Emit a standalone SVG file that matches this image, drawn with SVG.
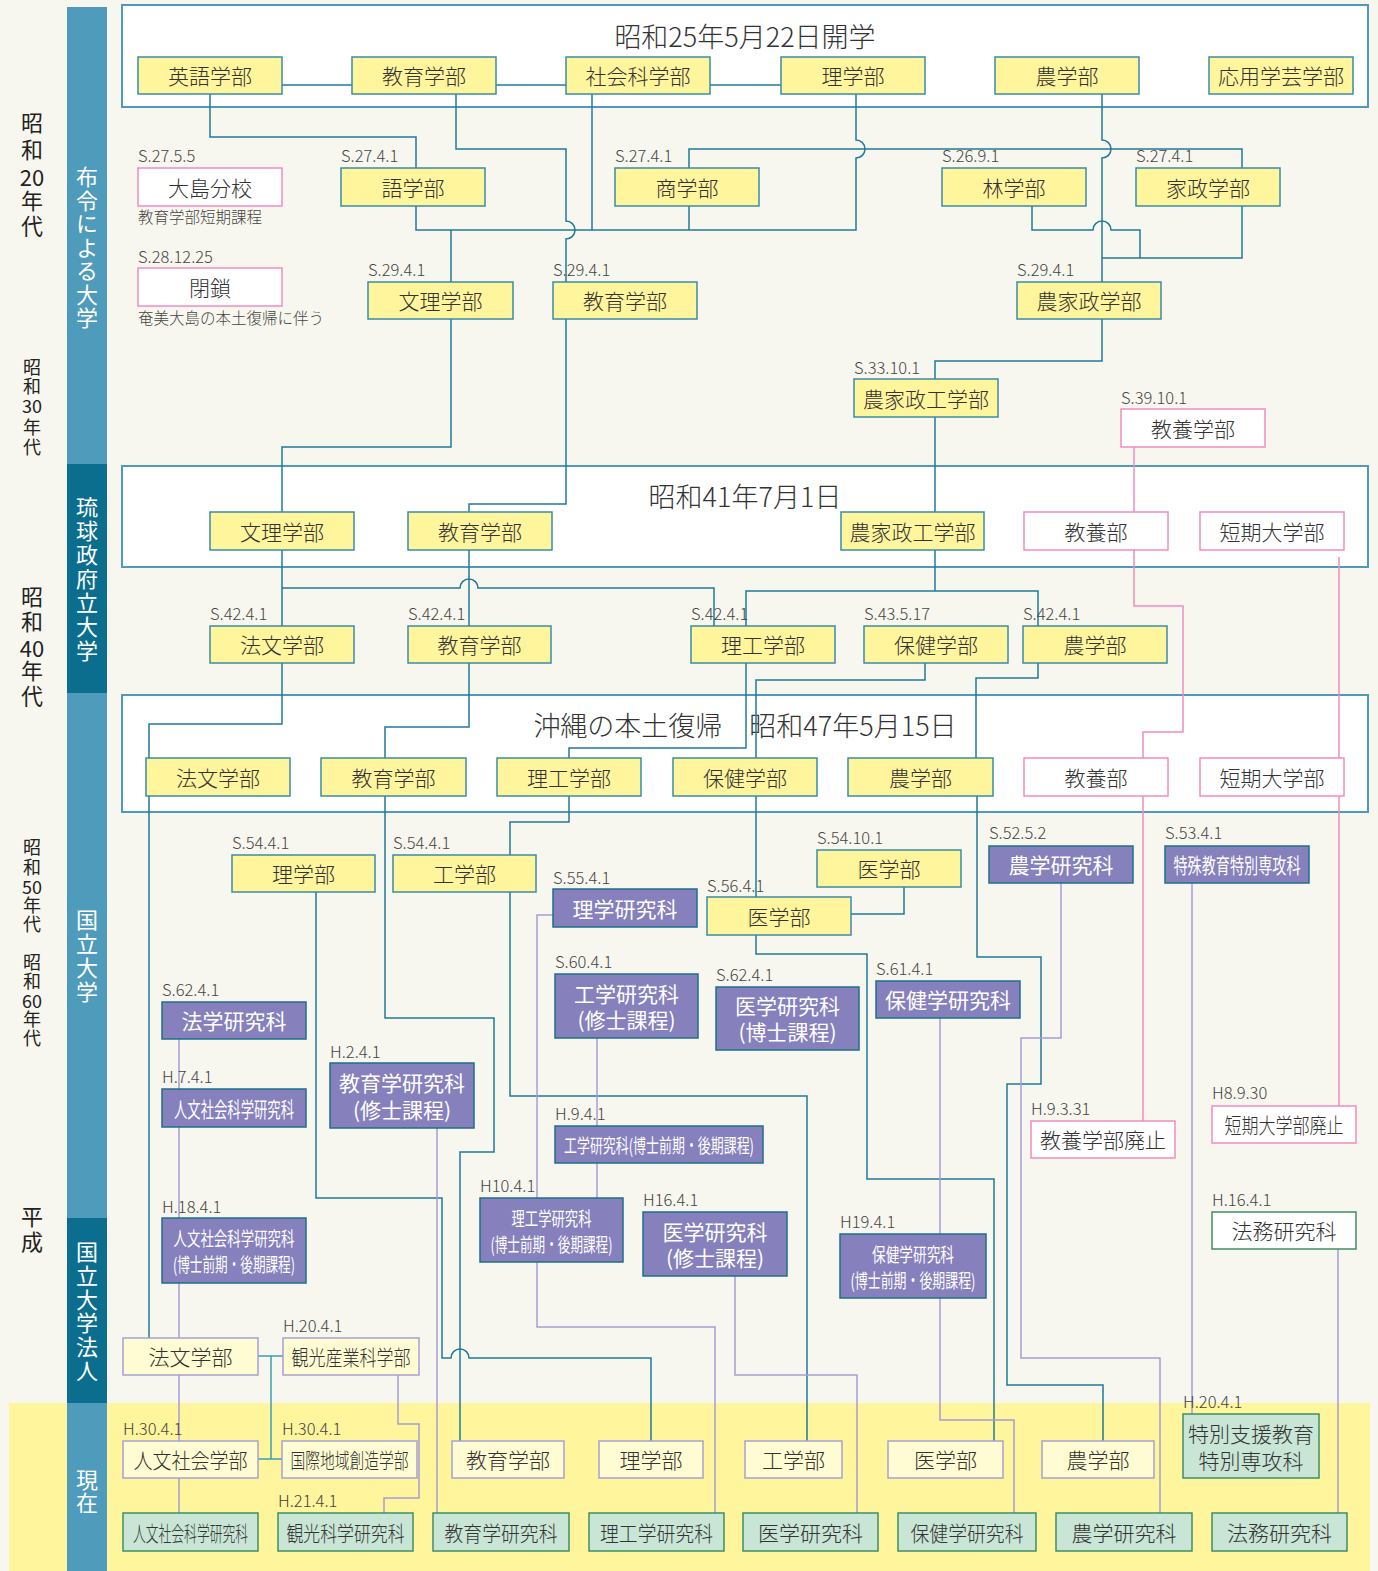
<svg xmlns="http://www.w3.org/2000/svg" width="1378" height="1571" viewBox="0 0 1378 1571">
<style>
.bg{fill:#f8f7ef}
.ob{fill:#fff;stroke:#4f9aba;stroke-width:2}
.y{fill:#fff59d;stroke:#3a8ca8;stroke-width:1.5}
.p{fill:#fff;stroke:#f28cc0;stroke-width:1.5}
.v{fill:#8680bd;stroke:#1e6f8c;stroke-width:1.5}
.c{fill:#fffbd2;stroke:#a7a1d2;stroke-width:1.5}
.g{fill:#c8e5d5;stroke:#3e8e64;stroke-width:1.5}
.gw{fill:#fff;stroke:#3e8e64;stroke-width:1.5}
text{font-family:"Noto Sans CJK JP","Noto Sans",sans-serif;font-weight:300}
.t{font-size:21px;fill:#333;text-anchor:middle;dominant-baseline:central}
.tw{fill:#fff;font-weight:400}
.s{font-size:19px}
.d{font-size:16.5px;fill:#444}
.ti{font-size:27px;fill:#333;text-anchor:middle;dominant-baseline:central}
.era{font-size:22px;fill:#222;text-anchor:middle;dominant-baseline:central;font-weight:400}
.ev{font-size:22px;fill:#222;text-anchor:middle;writing-mode:vertical-rl;font-weight:400}
.e2{font-size:18px}
.bt{font-size:22px;fill:#fff;text-anchor:middle;writing-mode:vertical-rl;font-weight:400}
.ln{fill:none;stroke:#1f7b99;stroke-width:1.5}
.lp{fill:none;stroke:#f28cc0;stroke-width:1.5}
.lv{fill:none;stroke:#a59fd1;stroke-width:1.5}
.lt{fill:none;stroke:#3aa0b4;stroke-width:1.5}
</style>
<rect class="bg" x="0" y="0" width="1378" height="1571"/>
<rect x="9" y="1403" width="1361" height="168" fill="#fff59d"/>
<g id="band">
<rect x="67" y="7" width="40" height="1564" fill="#4f9bbb"/>
<rect x="67" y="464" width="40" height="229" fill="#0b6e8e"/>
<rect x="67" y="1218" width="40" height="185" fill="#0b6e8e"/>
<text class="bt" x="87" y="248" letter-spacing="1.5">布令による大学</text>
<text class="bt" x="87" y="580" letter-spacing="2">琉球政府立大学</text>
<text class="bt" x="87" y="957" letter-spacing="2">国立大学</text>
<text class="bt" x="87" y="1312" letter-spacing="1.8">国立大学法人</text>
<text class="bt" x="87" y="1492" letter-spacing="1">現在</text>
</g>
<g id="eras">
<text class="ev" x="32" y="139" letter-spacing="5">昭和</text><text class="era" x="32" y="176">20</text><text class="ev" x="32" y="215" letter-spacing="3">年代</text>
<text class="ev e2" x="32" y="377" letter-spacing="1">昭和</text><text class="era e2" x="32" y="405">30</text><text class="ev e2" x="32" y="438" letter-spacing="2">年代</text>
<text class="ev" x="32" y="611" letter-spacing="3">昭和</text><text class="era" x="32" y="647">40</text><text class="ev" x="32" y="685" letter-spacing="3">年代</text>
<text class="ev e2" x="32" y="858" letter-spacing="2">昭和</text><text class="era e2" x="32" y="886">50</text><text class="ev e2" x="32" y="915" letter-spacing="1">年代</text>
<text class="ev e2" x="32" y="972" letter-spacing="1">昭和</text><text class="era e2" x="32" y="1000">60</text><text class="ev e2" x="32" y="1029" letter-spacing="1">年代</text>
<text class="ev" x="32" y="1231" letter-spacing="3">平成</text>
</g>
<g id="frames">
<rect class="ob" x="122" y="5" width="1246" height="102"/>
<text class="ti" x="745" y="35">昭和25年5月22日開学</text>
<rect class="ob" x="122" y="466" width="1246" height="101"/>
<text class="ti" x="745" y="495">昭和41年7月1日</text>
<rect class="ob" x="122" y="695" width="1246" height="117"/>
<text class="ti" x="745" y="724">沖縄の本土復帰　昭和47年5月15日</text>
</g>
<g id="connectors">
<path class="ln" d="M282,85 H781"/>
<path class="ln" d="M210,94 V137 H416 V168"/>
<path class="ln" d="M456,94 V149 H566 V221 A9,9 0 0 1 566,239 V282"/>
<path class="ln" d="M592,94 V230"/>
<path class="ln" d="M856,94 V140 A9,9 0 0 1 856,158 V230 H416 V206"/>
<path class="ln" d="M689,168 V149 H1242 V168"/>
<path class="ln" d="M689,206 V230"/>
<path class="ln" d="M451,230 V282"/>
<path class="ln" d="M1102,94 V140 A9,9 0 0 1 1102,158 V282"/>
<path class="ln" d="M1032,206 V230 H1093 A9,9 0 0 1 1111,230 H1140 V258"/>
<path class="ln" d="M1242,206 V258 H1102"/>
<path class="ln" d="M1102,319 V361 H935 V379"/>
<path class="ln" d="M451,319 V447 H282 V512"/>
<path class="ln" d="M566,319 V504 H469 V512"/>
<path class="ln" d="M935,417 V512"/>
<path class="lp" d="M1134,447 V512"/>
<path class="ln" d="M282,550 V626"/>
<path class="ln" d="M282,588 H460 A9,9 0 0 1 478,588 H714 V626"/>
<path class="ln" d="M469,550 V626"/>
<path class="ln" d="M935,549 V591"/>
<path class="ln" d="M746,626 V591 H1038 V626"/>
<path class="lp" d="M1134,549 V606 H1183 V732 H1143 V1121"/>
<path class="lp" d="M1339,557 V1106"/>
<path class="ln" d="M282,663 V724 H149 V1338"/>
<path class="ln" d="M469,663 V727 H385 V1018 H494 V1152 H460 V1441"/>
<path class="ln" d="M746,663 V748 H569 V758"/>
<path class="ln" d="M569,796 V822 H510 V855"/>
<path class="ln" d="M925,663 V680 H756 V758"/>
<path class="ln" d="M756,796 V897"/>
<path class="ln" d="M1038,663 V678 H976 V758"/>
<path class="ln" d="M977,796 V957 H1041 V1084 H1007 V1385 H1103 V1441"/>
<path class="ln" d="M904,887 V914 H851"/>
<path class="ln" d="M756,935 V954 H867 V1179 H994 V1441"/>
<path class="ln" d="M510,892 V1096 H807 V1441"/>
<path class="ln" d="M316,892 V1198 H442 V1358 H451 A9,9 0 0 1 469,1358 H651 V1441"/>
<path class="lt" d="M258,1356 H283 M271,1356 V1459 M258,1459 H282"/>
<path class="lv" d="M179,1039 V1513"/>
<path class="lv" d="M437,1128 V1513"/>
<path class="lv" d="M553,915 H537 V1327 H715 V1513"/>
<path class="lv" d="M597,1038 V1198"/>
<path class="lv" d="M735,1276 V1375 H857 V1513"/>
<path class="lv" d="M940,1018 V1420 H1014 V1513"/>
<path class="lv" d="M1061,883 V1038 H1021 V1358 H1160 V1513"/>
<path class="lv" d="M1192,883 V1414"/>
<path class="lv" d="M1338,1249 V1513"/>
<path class="lv" d="M398,1375 V1424 H419 V1498 H384 V1513"/>
</g>
<!-- row 1 -->
<g id="r1-eigo"><rect class="y" x="138" y="57" width="144" height="37"/><text class="t" x="210" y="75">英語学部</text></g>
<g id="r1-kyoiku"><rect class="y" x="352" y="57" width="144" height="37"/><text class="t" x="424" y="75">教育学部</text></g>
<g id="r1-shakai"><rect class="y" x="566" y="57" width="144" height="37"/><text class="t" x="638" y="75">社会科学部</text></g>
<g id="r1-ri"><rect class="y" x="781" y="57" width="144" height="37"/><text class="t" x="853" y="75">理学部</text></g>
<g id="r1-no"><rect class="y" x="995" y="57" width="144" height="37"/><text class="t" x="1067" y="75">農学部</text></g>
<g id="r1-oyo"><rect class="y" x="1209" y="57" width="144" height="37"/><text class="t" x="1281" y="75">応用学芸学部</text></g>
<!-- row 2 -->
<g id="oshima"><rect class="p" x="138" y="168" width="144" height="38"/><text class="t" x="210" y="186.5">大島分校</text><text class="d" x="138" y="162">S.27.5.5</text><text class="d" x="138" y="223" style="font-size:15.5px">教育学部短期課程</text></g>
<g id="heisa"><rect class="p" x="138" y="268" width="144" height="38"/><text class="t" x="210" y="286.5">閉鎖</text><text class="d" x="138" y="263">S.28.12.25</text><text class="d" x="138" y="324" style="font-size:15.5px">奄美大島の本土復帰に伴う</text></g>
<g id="go"><rect class="y" x="341" y="168" width="144" height="38"/><text class="t" x="413" y="186.5">語学部</text><text class="d" x="341" y="162">S.27.4.1</text></g>
<g id="sho"><rect class="y" x="615" y="168" width="144" height="38"/><text class="t" x="687" y="186.5">商学部</text><text class="d" x="615" y="162">S.27.4.1</text></g>
<g id="rin"><rect class="y" x="942" y="168" width="144" height="38"/><text class="t" x="1014" y="186.5">林学部</text><text class="d" x="942" y="162">S.26.9.1</text></g>
<g id="kasei"><rect class="y" x="1136" y="168" width="144" height="38"/><text class="t" x="1208" y="186.5">家政学部</text><text class="d" x="1136" y="162">S.27.4.1</text></g>
<!-- row 3 -->
<g id="bunri29"><rect class="y" x="368" y="282" width="145" height="37"/><text class="t" x="440.5" y="300">文理学部</text><text class="d" x="368" y="276">S.29.4.1</text></g>
<g id="kyoiku29"><rect class="y" x="553" y="282" width="144" height="37"/><text class="t" x="625" y="300">教育学部</text><text class="d" x="553" y="276">S.29.4.1</text></g>
<g id="nokasei29"><rect class="y" x="1017" y="282" width="144" height="37"/><text class="t" x="1089" y="300">農家政学部</text><text class="d" x="1017" y="276">S.29.4.1</text></g>
<g id="nokaseiko33"><rect class="y" x="854" y="379" width="144" height="38"/><text class="t" x="926" y="397.5">農家政工学部</text><text class="d" x="854" y="374">S.33.10.1</text></g>
<g id="kyoyo39"><rect class="p" x="1121" y="409" width="144" height="38"/><text class="t" x="1193" y="427.5">教養学部</text><text class="d" x="1121" y="404">S.39.10.1</text></g>
<!-- box 2 -->
<g id="bunri41"><rect class="y" x="210" y="512" width="144" height="38"/><text class="t" x="282" y="530.5">文理学部</text></g>
<g id="kyoiku41"><rect class="y" x="408" y="512" width="144" height="38"/><text class="t" x="480" y="530.5">教育学部</text></g>
<g id="nokaseiko41"><rect class="y" x="841" y="512" width="143" height="38"/><text class="t" x="912.5" y="530.5">農家政工学部</text></g>
<g id="kyoyo41"><rect class="p" x="1024" y="512" width="144" height="38"/><text class="t" x="1096" y="530.5">教養部</text></g>
<g id="tanki41"><rect class="p" x="1200" y="512" width="144" height="38"/><text class="t" x="1272" y="530.5">短期大学部</text></g>
<!-- S42 row -->
<g id="hobun42"><rect class="y" x="210" y="626" width="144" height="37"/><text class="t" x="282" y="644">法文学部</text><text class="d" x="210" y="620">S.42.4.1</text></g>
<g id="kyoiku42"><rect class="y" x="408" y="626" width="143" height="37"/><text class="t" x="479.5" y="644">教育学部</text><text class="d" x="408" y="620">S.42.4.1</text></g>
<g id="riko42"><rect class="y" x="691" y="626" width="144" height="37"/><text class="t" x="763" y="644">理工学部</text><text class="d" x="691" y="620">S.42.4.1</text></g>
<g id="hoken43"><rect class="y" x="864" y="626" width="144" height="37"/><text class="t" x="936" y="644">保健学部</text><text class="d" x="864" y="620">S.43.5.17</text></g>
<g id="no42"><rect class="y" x="1023" y="626" width="144" height="37"/><text class="t" x="1095" y="644">農学部</text><text class="d" x="1023" y="620">S.42.4.1</text></g>
<!-- box 3 -->
<g id="hobun47"><rect class="y" x="146" y="758" width="144" height="38"/><text class="t" x="218" y="776.5">法文学部</text></g>
<g id="kyoiku47"><rect class="y" x="321" y="758" width="145" height="38"/><text class="t" x="393.5" y="776.5">教育学部</text></g>
<g id="riko47"><rect class="y" x="497" y="758" width="144" height="38"/><text class="t" x="569" y="776.5">理工学部</text></g>
<g id="hoken47"><rect class="y" x="673" y="758" width="144" height="38"/><text class="t" x="745" y="776.5">保健学部</text></g>
<g id="no47"><rect class="y" x="848" y="758" width="145" height="38"/><text class="t" x="920.5" y="776.5">農学部</text></g>
<g id="kyoyo47"><rect class="p" x="1024" y="758" width="144" height="38"/><text class="t" x="1096" y="776.5">教養部</text></g>
<g id="tanki47"><rect class="p" x="1200" y="758" width="144" height="38"/><text class="t" x="1272" y="776.5">短期大学部</text></g>
<!-- national university -->
<g id="ri54"><rect class="y" x="232" y="855" width="143" height="37"/><text class="t" x="303.5" y="873">理学部</text><text class="d" x="232" y="849">S.54.4.1</text></g>
<g id="ko54"><rect class="y" x="393" y="855" width="143" height="37"/><text class="t" x="464.5" y="873">工学部</text><text class="d" x="393" y="849">S.54.4.1</text></g>
<g id="rigakuken55"><rect class="v" x="553" y="889" width="144" height="38"/><text class="t tw" x="625" y="907.5">理学研究科</text><text class="d" x="553" y="884">S.55.4.1</text></g>
<g id="igaku56"><rect class="y" x="707" y="897" width="144" height="38"/><text class="t" x="779" y="915.5">医学部</text><text class="d" x="707" y="892">S.56.4.1</text></g>
<g id="igaku54"><rect class="y" x="817" y="850" width="144" height="37"/><text class="t" x="889" y="868">医学部</text><text class="d" x="817" y="844">S.54.10.1</text></g>
<g id="nogakuken52"><rect class="v" x="989" y="846" width="144" height="37"/><text class="t tw" x="1061" y="864">農学研究科</text><text class="d" x="989" y="839">S.52.5.2</text></g>
<g id="tokushu53"><rect class="v" x="1165" y="846" width="144" height="37"/><text class="t tw" x="1237" y="864" textLength="127" lengthAdjust="spacingAndGlyphs">特殊教育特別専攻科</text><text class="d" x="1165" y="839">S.53.4.1</text></g>
<g id="kogakuken60"><rect class="v" x="555" y="974" width="143" height="64"/><text class="t tw" x="626.5" y="993">工学研究科<tspan x="626.5" dy="26">(修士課程)</tspan></text><text class="d" x="555" y="968">S.60.4.1</text></g>
<g id="igakuken62"><rect class="v" x="716" y="987" width="143" height="63"/><text class="t tw" x="787.5" y="1005">医学研究科<tspan x="787.5" dy="26">(博士課程)</tspan></text><text class="d" x="716" y="981">S.62.4.1</text></g>
<g id="hokenken61"><rect class="v" x="876" y="981" width="144" height="37"/><text class="t tw" x="948" y="999">保健学研究科</text><text class="d" x="876" y="975">S.61.4.1</text></g>
<g id="hogakuken62"><rect class="v" x="162" y="1002" width="144" height="37"/><text class="t tw" x="234" y="1020">法学研究科</text><text class="d" x="162" y="996">S.62.4.1</text></g>
<g id="jinbunken7"><rect class="v" x="162" y="1089" width="144" height="38"/><text class="t tw" x="234" y="1107.5" textLength="120" lengthAdjust="spacingAndGlyphs">人文社会科学研究科</text><text class="d" x="162" y="1083">H.7.4.1</text></g>
<g id="kyoikuken2"><rect class="v" x="330" y="1063" width="144" height="65"/><text class="t tw" x="402" y="1082">教育学研究科<tspan x="402" dy="27">(修士課程)</tspan></text><text class="d" x="330" y="1058">H.2.4.1</text></g>
<g id="kogakuken9"><rect class="v" x="555" y="1126" width="208" height="37"/><text class="t tw s" x="659" y="1144" textLength="190" lengthAdjust="spacingAndGlyphs">工学研究科(博士前期・後期課程)</text><text class="d" x="555" y="1120">H.9.4.1</text></g>
<g id="kyoyohaishi"><rect class="p" x="1031" y="1121" width="144" height="37"/><text class="t" x="1103" y="1139">教養学部廃止</text><text class="d" x="1031" y="1115">H.9.3.31</text></g>
<g id="tankihaishi"><rect class="p" x="1212" y="1106" width="144" height="37"/><text class="t" x="1284" y="1124" textLength="119" lengthAdjust="spacingAndGlyphs">短期大学部廃止</text><text class="d" x="1212" y="1099">H8.9.30</text></g>
<g id="rikoken10"><rect class="v" x="480" y="1198" width="143" height="64"/><text class="t tw s" x="551.5" y="1217" textLength="80" lengthAdjust="spacingAndGlyphs">理工学研究科</text><text class="t tw s" x="551.5" y="1243" textLength="122" lengthAdjust="spacingAndGlyphs">(博士前期・後期課程)</text><text class="d" x="480" y="1192">H10.4.1</text></g>
<g id="igakuken16"><rect class="v" x="643" y="1212" width="144" height="64"/><text class="t tw" x="715" y="1231">医学研究科<tspan x="715" dy="26">(修士課程)</tspan></text><text class="d" x="643" y="1206">H16.4.1</text></g>
<g id="hokenken19"><rect class="v" x="840" y="1234" width="146" height="64"/><text class="t tw s" x="913" y="1253" textLength="82" lengthAdjust="spacingAndGlyphs">保健学研究科</text><text class="t tw s" x="913" y="1279" textLength="125" lengthAdjust="spacingAndGlyphs">(博士前期・後期課程)</text><text class="d" x="840" y="1228">H19.4.1</text></g>
<g id="homu16"><rect class="gw" x="1212" y="1212" width="144" height="37"/><text class="t" x="1284" y="1230">法務研究科</text><text class="d" x="1212" y="1206">H.16.4.1</text></g>
<g id="jinbunken18"><rect class="v" x="162" y="1218" width="144" height="65"/><text class="t tw s" x="234" y="1237" textLength="121" lengthAdjust="spacingAndGlyphs">人文社会科学研究科</text><text class="t tw s" x="234" y="1263" textLength="122" lengthAdjust="spacingAndGlyphs">(博士前期・後期課程)</text><text class="d" x="162" y="1213">H.18.4.1</text></g>
<g id="hobun-h"><rect class="c" x="123" y="1338" width="135" height="37"/><text class="t" x="190.5" y="1356">法文学部</text></g>
<g id="kanko20"><rect class="c" x="283" y="1338" width="136" height="37"/><text class="t" x="351" y="1356" textLength="119" lengthAdjust="spacingAndGlyphs">観光産業科学部</text><text class="d" x="283" y="1332">H.20.4.1</text></g>
<!-- present -->
<g id="now-jinbun"><rect class="c" x="123" y="1441" width="135" height="37"/><text class="t" x="190.5" y="1459" textLength="114" lengthAdjust="spacingAndGlyphs">人文社会学部</text><text class="d" x="123" y="1435">H.30.4.1</text></g>
<g id="now-kokusai"><rect class="c" x="282" y="1441" width="135" height="37"/><text class="t" x="349.5" y="1459" textLength="118" lengthAdjust="spacingAndGlyphs">国際地域創造学部</text><text class="d" x="282" y="1435">H.30.4.1</text></g>
<g id="now-kyoiku"><rect class="c" x="452" y="1441" width="112" height="37"/><text class="t" x="508" y="1459">教育学部</text></g>
<g id="now-ri"><rect class="c" x="599" y="1441" width="104" height="37"/><text class="t" x="651" y="1459">理学部</text></g>
<g id="now-ko"><rect class="c" x="745" y="1441" width="97" height="37"/><text class="t" x="793.5" y="1459">工学部</text></g>
<g id="now-i"><rect class="c" x="888" y="1441" width="115" height="37"/><text class="t" x="945.5" y="1459">医学部</text></g>
<g id="now-no"><rect class="c" x="1042" y="1441" width="112" height="37"/><text class="t" x="1098" y="1459">農学部</text></g>
<g id="now-tokubetsu"><rect class="g" x="1183" y="1414" width="136" height="64"/><text class="t" x="1251" y="1433">特別支援教育<tspan x="1251" dy="27">特別専攻科</tspan></text><text class="d" x="1183" y="1408">H.20.4.1</text></g>
<g id="now-jinbunken"><rect class="g" x="123" y="1513" width="135" height="38"/><text class="t" x="190.5" y="1531.5" textLength="115" lengthAdjust="spacingAndGlyphs">人文社会科学研究科</text></g>
<g id="now-kankoken"><rect class="g" x="278" y="1513" width="135" height="38"/><text class="t" x="345.5" y="1531.5" textLength="118" lengthAdjust="spacingAndGlyphs">観光科学研究科</text><text class="d" x="278" y="1507">H.21.4.1</text></g>
<g id="now-kyoikuken"><rect class="g" x="433" y="1513" width="136" height="38"/><text class="t" x="501" y="1531.5" textLength="113" lengthAdjust="spacingAndGlyphs">教育学研究科</text></g>
<g id="now-rikoken"><rect class="g" x="589" y="1513" width="135" height="38"/><text class="t" x="656.5" y="1531.5" textLength="113" lengthAdjust="spacingAndGlyphs">理工学研究科</text></g>
<g id="now-igakuken"><rect class="g" x="743" y="1513" width="135" height="38"/><text class="t" x="810.5" y="1531.5">医学研究科</text></g>
<g id="now-hokenken"><rect class="g" x="898" y="1513" width="138" height="38"/><text class="t" x="967" y="1531.5" textLength="113" lengthAdjust="spacingAndGlyphs">保健学研究科</text></g>
<g id="now-nogakuken"><rect class="g" x="1056" y="1513" width="136" height="38"/><text class="t" x="1124" y="1531.5">農学研究科</text></g>
<g id="now-homuken"><rect class="g" x="1212" y="1513" width="135" height="38"/><text class="t" x="1279.5" y="1531.5">法務研究科</text></g>
</svg>
